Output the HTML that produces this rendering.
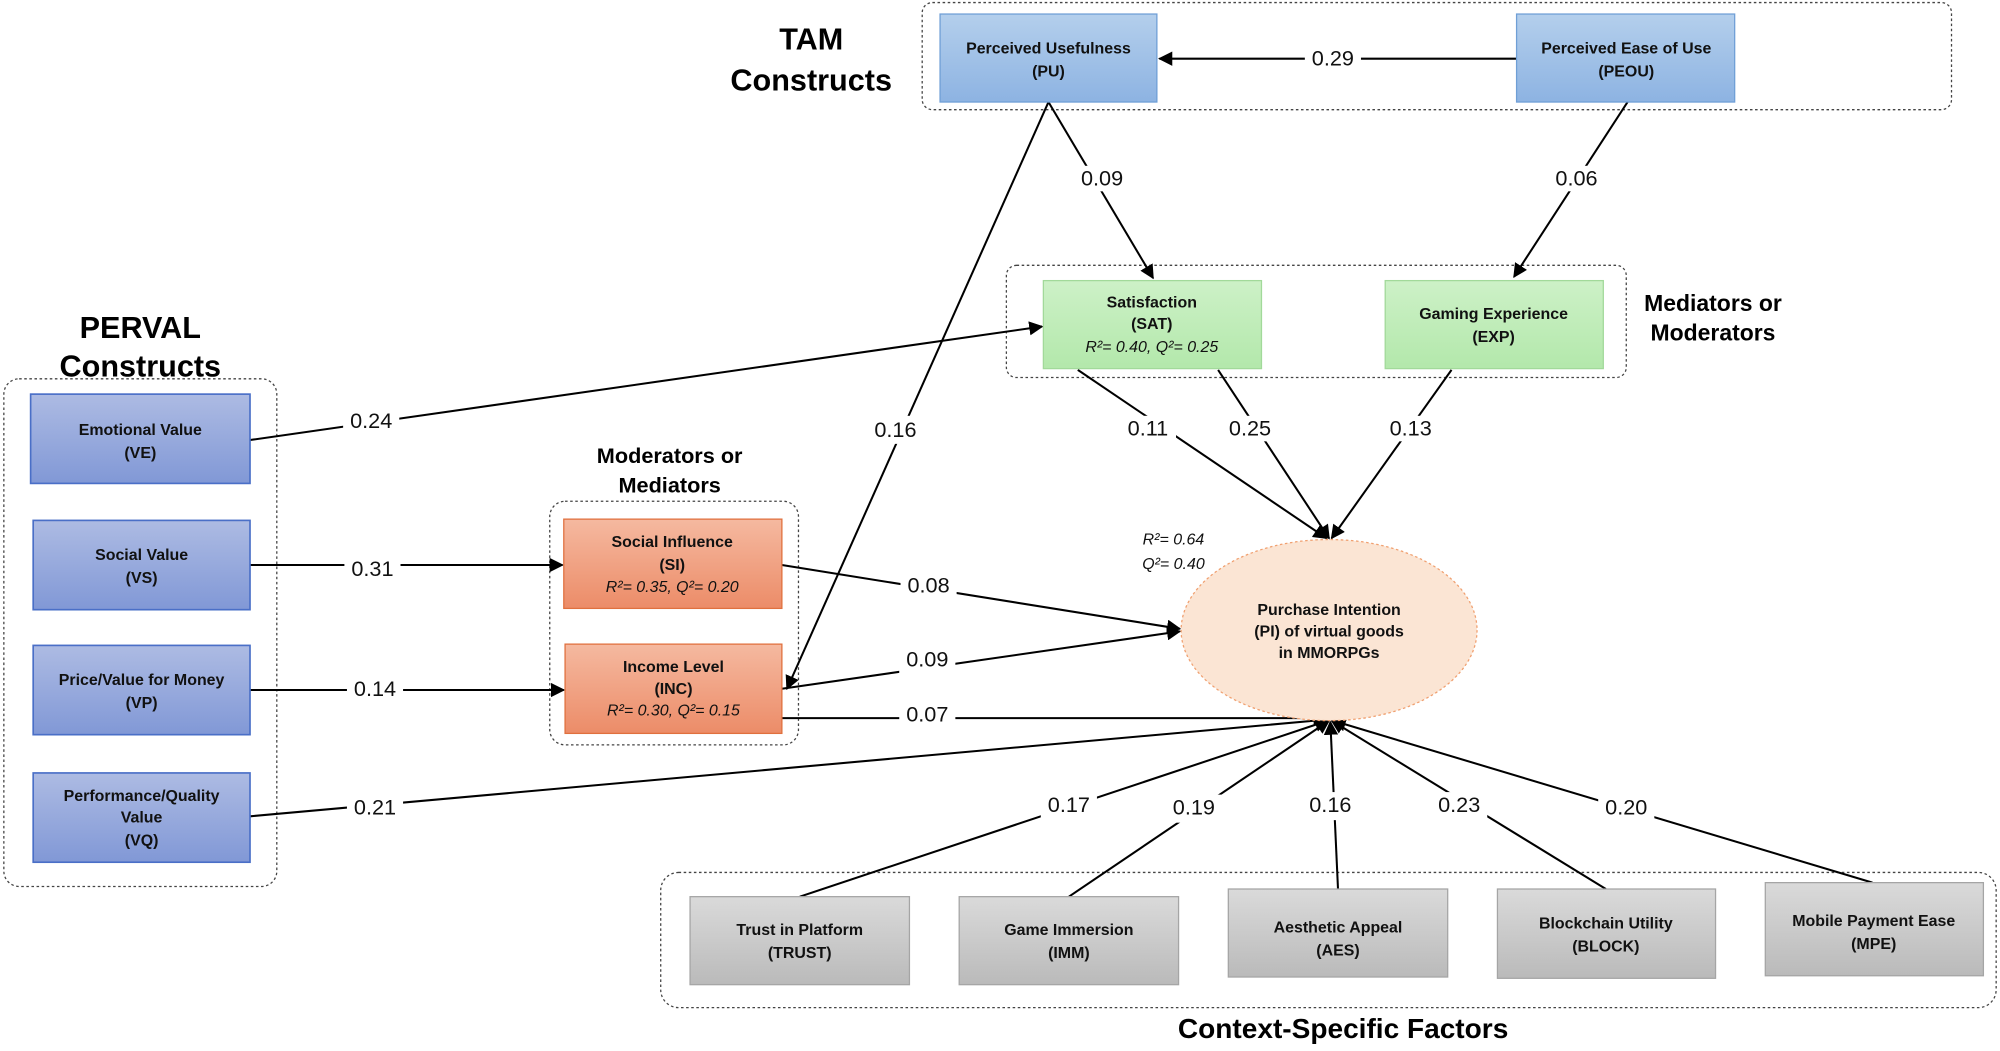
<!DOCTYPE html>
<html><head><meta charset="utf-8"><style>
html,body{margin:0;padding:0;background:#fff;}
svg{display:block;}
text{font-family:"Liberation Sans",sans-serif;}
.n{font-size:12.5px;font-weight:bold;text-anchor:middle;fill:#111;}
.i{font-size:12.5px;font-style:italic;text-anchor:middle;fill:#111;}
.l{font-size:17px;text-anchor:middle;fill:#111;dominant-baseline:middle;}
.h{font-weight:bold;text-anchor:middle;fill:#000;}
.e{stroke:#000;stroke-width:1.6;fill:none;}
.g{fill:none;stroke:#444;stroke-width:1;stroke-dasharray:2 2;}
</style></head><body>
<svg width="2000" height="1051" viewBox="0 0 1568 824" xmlns="http://www.w3.org/2000/svg">
<defs>
<marker id="a" viewBox="0 0 10 10" refX="9" refY="5" markerWidth="7" markerHeight="7" orient="auto-start-reverse"><path d="M0,0L10,5L0,10z" fill="#000"/></marker>
<linearGradient id="pb" x1="0" y1="0" x2="0" y2="1"><stop offset="0" stop-color="#b4cfec"/><stop offset="1" stop-color="#8db3e2"/></linearGradient>
<linearGradient id="vb" x1="0" y1="0" x2="0" y2="1"><stop offset="0" stop-color="#adbbe3"/><stop offset="1" stop-color="#8198d6"/></linearGradient>
<linearGradient id="or" x1="0" y1="0" x2="0" y2="1"><stop offset="0" stop-color="#f5b9a0"/><stop offset="1" stop-color="#ec8c68"/></linearGradient>
<linearGradient id="gr" x1="0" y1="0" x2="0" y2="1"><stop offset="0" stop-color="#cdf1c7"/><stop offset="1" stop-color="#b3e8ab"/></linearGradient>
<linearGradient id="gy" x1="0" y1="0" x2="0" y2="1"><stop offset="0" stop-color="#dadada"/><stop offset="1" stop-color="#bababa"/></linearGradient>
</defs>
<rect width="1568" height="824" fill="#fff"/>

<!-- group boxes -->
<rect class="g" x="723" y="2" width="807" height="84" rx="8"/>
<rect class="g" x="789" y="208" width="486" height="88" rx="8"/>
<rect class="g" x="3" y="297" width="214" height="398" rx="12"/>
<rect class="g" x="431" y="393" width="195" height="191" rx="12"/>
<rect class="g" x="518" y="684" width="1047" height="106" rx="14"/>

<!-- headings -->
<text class="h" x="636" y="39" font-size="24">TAM</text>
<text class="h" x="636" y="71" font-size="24">Constructs</text>
<text class="h" x="110" y="265" font-size="24">PERVAL</text>
<text class="h" x="110" y="295" font-size="24">Constructs</text>
<text class="h" x="525" y="363" font-size="17">Moderators or</text>
<text class="h" x="525" y="386" font-size="17">Mediators</text>
<text class="h" x="1343" y="244" font-size="18">Mediators or</text>
<text class="h" x="1343" y="267" font-size="18">Moderators</text>
<text class="h" x="1053" y="814" font-size="22">Context-Specific Factors</text>

<!-- edges -->
<g class="e">
<line x1="1189" y1="46" x2="909" y2="46" marker-end="url(#a)"/>
<line x1="822" y1="80" x2="904" y2="218" marker-end="url(#a)"/>
<line x1="1276" y1="80" x2="1187" y2="217" marker-end="url(#a)"/>
<line x1="822" y1="80" x2="617" y2="540" marker-end="url(#a)"/>
<line x1="196" y1="345" x2="817" y2="256" marker-end="url(#a)"/>
<line x1="196" y1="443" x2="441" y2="443" marker-end="url(#a)"/>
<line x1="196" y1="541" x2="442" y2="541" marker-end="url(#a)"/>
<line x1="196" y1="640" x2="1042" y2="564" marker-end="url(#a)"/>
<line x1="845" y1="290" x2="1040" y2="422" marker-end="url(#a)"/>
<line x1="955" y1="290" x2="1042" y2="422" marker-end="url(#a)"/>
<line x1="1138" y1="290" x2="1044" y2="422" marker-end="url(#a)"/>
<line x1="613" y1="443" x2="925" y2="493" marker-end="url(#a)"/>
<line x1="613" y1="540" x2="925" y2="495" marker-end="url(#a)"/>
<line x1="613" y1="563" x2="1040" y2="563" marker-end="url(#a)"/>
<line x1="627" y1="703" x2="1041" y2="565" marker-end="url(#a)"/>
<line x1="838" y1="703" x2="1042" y2="565" marker-end="url(#a)"/>
<line x1="1049" y1="697" x2="1043" y2="566" marker-end="url(#a)"/>
<line x1="1259" y1="697" x2="1044" y2="565" marker-end="url(#a)"/>
<line x1="1468" y1="692" x2="1045" y2="565" marker-end="url(#a)"/>
</g>

<!-- labels with white bg -->
<g>
<rect x="1023" y="36" width="44" height="20" fill="#fff"/><text class="l" x="1045" y="47">0.29</text>
<rect x="842" y="130" width="44" height="20" fill="#fff"/><text class="l" x="864" y="141">0.09</text>
<rect x="1214" y="130" width="44" height="20" fill="#fff"/><text class="l" x="1236" y="141">0.06</text>
<rect x="680" y="326" width="44" height="22" fill="#fff"/><text class="l" x="702" y="338">0.16</text>
<rect x="269" y="320" width="44" height="22" fill="#fff"/><text class="l" x="291" y="331">0.24</text>
<rect x="270" y="436" width="44" height="20" fill="#fff"/><text class="l" x="292" y="447">0.31</text>
<rect x="272" y="530" width="44" height="20" fill="#fff"/><text class="l" x="294" y="541">0.14</text>
<rect x="272" y="623" width="44" height="22" fill="#fff"/><text class="l" x="294" y="634">0.21</text>
<rect x="878" y="326" width="44" height="20" fill="#fff"/><text class="l" x="900" y="337">0.11</text>
<rect x="958" y="326" width="44" height="20" fill="#fff"/><text class="l" x="980" y="337">0.25</text>
<rect x="1084" y="326" width="44" height="20" fill="#fff"/><text class="l" x="1106" y="337">0.13</text>
<rect x="706" y="449" width="44" height="22" fill="#fff"/><text class="l" x="728" y="460">0.08</text>
<rect x="705" y="507" width="44" height="22" fill="#fff"/><text class="l" x="727" y="518">0.09</text>
<rect x="705" y="551" width="44" height="20" fill="#fff"/><text class="l" x="727" y="561">0.07</text>
<rect x="816" y="621" width="44" height="22" fill="#fff"/><text class="l" x="838" y="632">0.17</text>
<rect x="914" y="623" width="44" height="22" fill="#fff"/><text class="l" x="936" y="634">0.19</text>
<rect x="1021" y="621" width="44" height="22" fill="#fff"/><text class="l" x="1043" y="632">0.16</text>
<rect x="1122" y="621" width="44" height="22" fill="#fff"/><text class="l" x="1144" y="632">0.23</text>
<rect x="1253" y="623" width="44" height="22" fill="#fff"/><text class="l" x="1275" y="634">0.20</text>
</g>

<!-- TAM nodes -->
<rect x="737" y="11" width="170" height="69" fill="url(#pb)" stroke="#6f9fd6"/>
<text class="n" x="822" y="42">Perceived Usefulness</text><text class="n" x="822" y="60">(PU)</text>
<rect x="1189" y="11" width="171" height="69" fill="url(#pb)" stroke="#6f9fd6"/>
<text class="n" x="1275" y="42">Perceived Ease of Use</text><text class="n" x="1275" y="60">(PEOU)</text>

<!-- mediators -->
<rect x="818" y="220" width="171" height="69" fill="url(#gr)" stroke="#a2d99a"/>
<text class="n" x="903" y="241">Satisfaction</text><text class="n" x="903" y="258">(SAT)</text>
<text class="i" x="903" y="276">R²= 0.40, Q²= 0.25</text>
<rect x="1086" y="220" width="171" height="69" fill="url(#gr)" stroke="#a2d99a"/>
<text class="n" x="1171" y="250">Gaming Experience</text><text class="n" x="1171" y="268">(EXP)</text>

<!-- PERVAL -->
<rect x="24" y="309" width="172" height="70" fill="url(#vb)" stroke="#4a6fc7" stroke-width="1.3"/>
<text class="n" x="110" y="341">Emotional Value</text><text class="n" x="110" y="359">(VE)</text>
<rect x="26" y="408" width="170" height="70" fill="url(#vb)" stroke="#4a6fc7" stroke-width="1.3"/>
<text class="n" x="111" y="439">Social Value</text><text class="n" x="111" y="457">(VS)</text>
<rect x="26" y="506" width="170" height="70" fill="url(#vb)" stroke="#4a6fc7" stroke-width="1.3"/>
<text class="n" x="111" y="537">Price/Value for Money</text><text class="n" x="111" y="555">(VP)</text>
<rect x="26" y="606" width="170" height="70" fill="url(#vb)" stroke="#4a6fc7" stroke-width="1.3"/>
<text class="n" x="111" y="628">Performance/Quality</text><text class="n" x="111" y="645">Value</text><text class="n" x="111" y="663">(VQ)</text>

<!-- moderators -->
<rect x="442" y="407" width="171" height="70" fill="url(#or)" stroke="#e0703e"/>
<text class="n" x="527" y="429">Social Influence</text><text class="n" x="527" y="447">(SI)</text>
<text class="i" x="527" y="464">R²= 0.35, Q²= 0.20</text>
<rect x="443" y="505" width="170" height="70" fill="url(#or)" stroke="#e0703e"/>
<text class="n" x="528" y="527">Income Level</text><text class="n" x="528" y="544">(INC)</text>
<text class="i" x="528" y="561">R²= 0.30, Q²= 0.15</text>

<!-- PI -->
<ellipse cx="1042" cy="494" rx="116" ry="71" fill="#fbe5d4" stroke="#f0a070" stroke-dasharray="2 2"/>
<text class="n" x="1042" y="482">Purchase Intention</text>
<text class="n" x="1042" y="499">(PI) of virtual goods</text>
<text class="n" x="1042" y="516">in MMORPGs</text>
<text class="i" x="920" y="427">R²= 0.64</text>
<text class="i" x="920" y="446">Q²= 0.40</text>

<!-- context -->
<rect x="541" y="703" width="172" height="69" fill="url(#gy)" stroke="#a5a5a5"/>
<text class="n" x="627" y="733">Trust in Platform</text><text class="n" x="627" y="751">(TRUST)</text>
<rect x="752" y="703" width="172" height="69" fill="url(#gy)" stroke="#a5a5a5"/>
<text class="n" x="838" y="733">Game Immersion</text><text class="n" x="838" y="751">(IMM)</text>
<rect x="963" y="697" width="172" height="69" fill="url(#gy)" stroke="#a5a5a5"/>
<text class="n" x="1049" y="731">Aesthetic Appeal</text><text class="n" x="1049" y="749">(AES)</text>
<rect x="1174" y="697" width="171" height="70" fill="url(#gy)" stroke="#a5a5a5"/>
<text class="n" x="1259" y="728">Blockchain Utility</text><text class="n" x="1259" y="746">(BLOCK)</text>
<rect x="1384" y="692" width="171" height="73" fill="url(#gy)" stroke="#a5a5a5"/>
<text class="n" x="1469" y="726">Mobile Payment Ease</text><text class="n" x="1469" y="744">(MPE)</text>
</svg>
</body></html>
